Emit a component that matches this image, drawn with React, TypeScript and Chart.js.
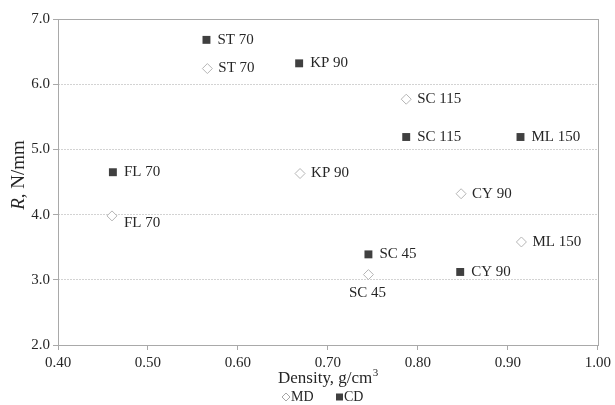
import React, { useEffect, useRef } from "react";
import { Chart, registerables } from "chart.js";

Chart.register(...registerables);

// Data: density (g/cm³) vs R (N/mm)
const sampleNames = ["ST 70", "KP 90", "SC 115", "ML 150", "FL 70", "SC 45", "CY 90"];
const mdDensity = [0.566, 0.669, 0.787, 0.915, 0.460, 0.745, 0.848];
const mdR = [6.24, 4.63, 5.77, 3.58, 3.98, 3.08, 4.32];
const cdDensity = [0.565, 0.668, 0.787, 0.914, 0.461, 0.745, 0.847];
const cdR = [6.68, 6.32, 5.19, 5.19, 4.65, 3.39, 3.12];
// label placement keywords per MD point (CD labels are all to the right)
const mdLabelPlacement = ["right", "right", "right", "right", "rightLow", "below", "right"];
const seriesNames = ["MD", "CD"];
const xTicks = [0.4, 0.5, 0.6, 0.7, 0.8, 0.9, 1.0];
const yTicks = [2.0, 3.0, 4.0, 5.0, 6.0, 7.0];

const SERIF = "'Liberation Serif', 'Times New Roman', serif";
const TEXT = "#262626";
const FRAME = "#a9a9a9";

const overlayPlugin = {
  id: "overlay",
  beforeDatasetsDraw(chart: any) {
    const { ctx, chartArea: a } = chart;
    ctx.save();
    ctx.strokeStyle = FRAME;
    ctx.lineWidth = 1;
    ctx.setLineDash([]);
    ctx.strokeRect(Math.round(a.left) + 0.5, Math.round(a.top) + 0.5, Math.round(a.right - a.left), Math.round(a.bottom - a.top));
    ctx.restore();
  },
  afterDraw(chart: any) {
    const { ctx, chartArea: a } = chart;
    ctx.save();
    // point labels
    ctx.fillStyle = TEXT;
    ctx.font = `15px ${SERIF}`;
    chart.data.datasets.forEach((ds: any, di: number) => {
      const meta = chart.getDatasetMeta(di);
      meta.data.forEach((pt: any, i: number) => {
        const label = sampleNames[i];
        const place = di === 0 ? mdLabelPlacement[i] : "right";
        if (place === "below") {
          ctx.textAlign = "center";
          ctx.textBaseline = "middle";
          ctx.fillText(label, pt.x - 1, pt.y + 18);
        } else if (place === "rightLow") {
          ctx.textAlign = "left";
          ctx.textBaseline = "middle";
          ctx.fillText(label, pt.x + 12, pt.y + 7);
        } else {
          ctx.textAlign = "left";
          ctx.textBaseline = "middle";
          ctx.fillText(label, pt.x + 11, pt.y);
        }
      });
    });

    // x-axis title
    const cx = (a.left + a.right) / 2;
    ctx.textBaseline = "middle";
    ctx.font = `17px ${SERIF}`;
    const main = "Density, g/cm";
    const wMain = ctx.measureText(main).width;
    ctx.font = `11px ${SERIF}`;
    const wSup = ctx.measureText("3").width;
    const startX = cx - (wMain + wSup) / 2;
    ctx.font = `17px ${SERIF}`;
    ctx.textAlign = "left";
    ctx.fillText(main, startX, 379);
    ctx.font = `11px ${SERIF}`;
    ctx.fillText("3", startX + wMain + 0.5, 373);

    // y-axis title: italic R
    ctx.save();
    ctx.translate(24, 175);
    ctx.rotate(-Math.PI / 2);
    ctx.font = `italic 19px ${SERIF}`;
    const r = "R";
    const wR = ctx.measureText(r).width;
    ctx.font = `19px ${SERIF}`;
    const rest = ", N/mm";
    const wRest = ctx.measureText(rest).width;
    const sx = -(wR + wRest) / 2;
    ctx.textAlign = "left";
    ctx.textBaseline = "alphabetic";
    ctx.font = `italic 19px ${SERIF}`;
    ctx.fillText(r, sx, 0);
    ctx.font = `19px ${SERIF}`;
    ctx.fillText(rest, sx + wR, 0);
    ctx.restore();

    // legend
    const ly = 397;
    ctx.font = `14px ${SERIF}`;
    ctx.textAlign = "left";
    ctx.textBaseline = "middle";
    // MD diamond
    ctx.beginPath();
    ctx.moveTo(286, ly - 4);
    ctx.lineTo(290, ly);
    ctx.lineTo(286, ly + 4);
    ctx.lineTo(282, ly);
    ctx.closePath();
    ctx.fillStyle = "#ffffff";
    ctx.fill();
    ctx.strokeStyle = "#a6a6a6";
    ctx.lineWidth = 1;
    ctx.stroke();
    ctx.fillStyle = TEXT;
    ctx.fillText(seriesNames[0], 291, ly);
    // CD square
    ctx.fillStyle = "#404040";
    ctx.fillRect(336, ly - 3.5, 7, 7);
    ctx.fillStyle = TEXT;
    ctx.fillText(seriesNames[1], 344, ly);
    ctx.restore();
  },
};

export default function App() {
  const ref = useRef<HTMLCanvasElement>(null);
  useEffect(() => {
    document.body.style.margin = "0";
    const canvas = ref.current!;
    const chart = new Chart(canvas, {
      type: "scatter",
      data: {
        datasets: [
          {
            label: seriesNames[0],
            data: mdDensity.map((x, i) => ({ x, y: mdR[i] })),
            pointStyle: "rectRot",
            pointRadius: 5,
            backgroundColor: "#ffffff",
            borderColor: "#b5b5b5",
            borderWidth: 1,
          },
          {
            label: seriesNames[1],
            data: cdDensity.map((x, i) => ({ x, y: cdR[i] })),
            pointStyle: "rect",
            pointRadius: 5.6,
            backgroundColor: "#404040",
            borderColor: "#404040",
            borderWidth: 0,
          },
        ],
      },
      options: {
        responsive: false,
        animation: false,
        devicePixelRatio: 1,
        layout: { padding: { left: 0, right: 15, top: 19, bottom: 0 } },
        plugins: {
          legend: { display: false },
          tooltip: { enabled: false },
        },
        scales: {
          x: {
            type: "linear",
            min: 0.4,
            max: 1.0,
            afterFit: (s: any) => {
              s.height = 60;
            },
            afterBuildTicks: (s: any) => {
              s.ticks = xTicks.map((v) => ({ value: v }));
            },
            ticks: {
              callback: (v: any) => Number(v).toFixed(2),
              font: { family: SERIF, size: 15 },
              color: TEXT,
              padding: 4,
              maxRotation: 0,
            },
            grid: {
              drawOnChartArea: false,
              drawTicks: true,
              tickLength: 5,
              tickColor: FRAME,
            },
            border: { display: false },
          },
          y: {
            type: "linear",
            min: 2.0,
            max: 7.0,
            afterFit: (s: any) => {
              s.width = 58;
            },
            afterBuildTicks: (s: any) => {
              s.ticks = yTicks.map((v) => ({ value: v }));
            },
            ticks: {
              callback: (v: any) => Number(v).toFixed(1),
              font: { family: SERIF, size: 15 },
              color: TEXT,
              padding: 3,
            },
            grid: {
              color: "#d3d3d3",
              lineWidth: 1,
              tickLength: 5,
              tickColor: FRAME,
              tickBorderDash: [],
            },
            border: { display: false, dash: [2, 1] },
          },
        },
      },
      plugins: [overlayPlugin],
    } as any);
    return () => chart.destroy();
  }, []);
  return (
    <div style={{ position: "absolute", left: 0, top: 0, width: 615, height: 405, background: "#fff" }}>
      <canvas ref={ref} width={615} height={405} style={{ width: 615, height: 405, display: "block" }} />
    </div>
  );
}
